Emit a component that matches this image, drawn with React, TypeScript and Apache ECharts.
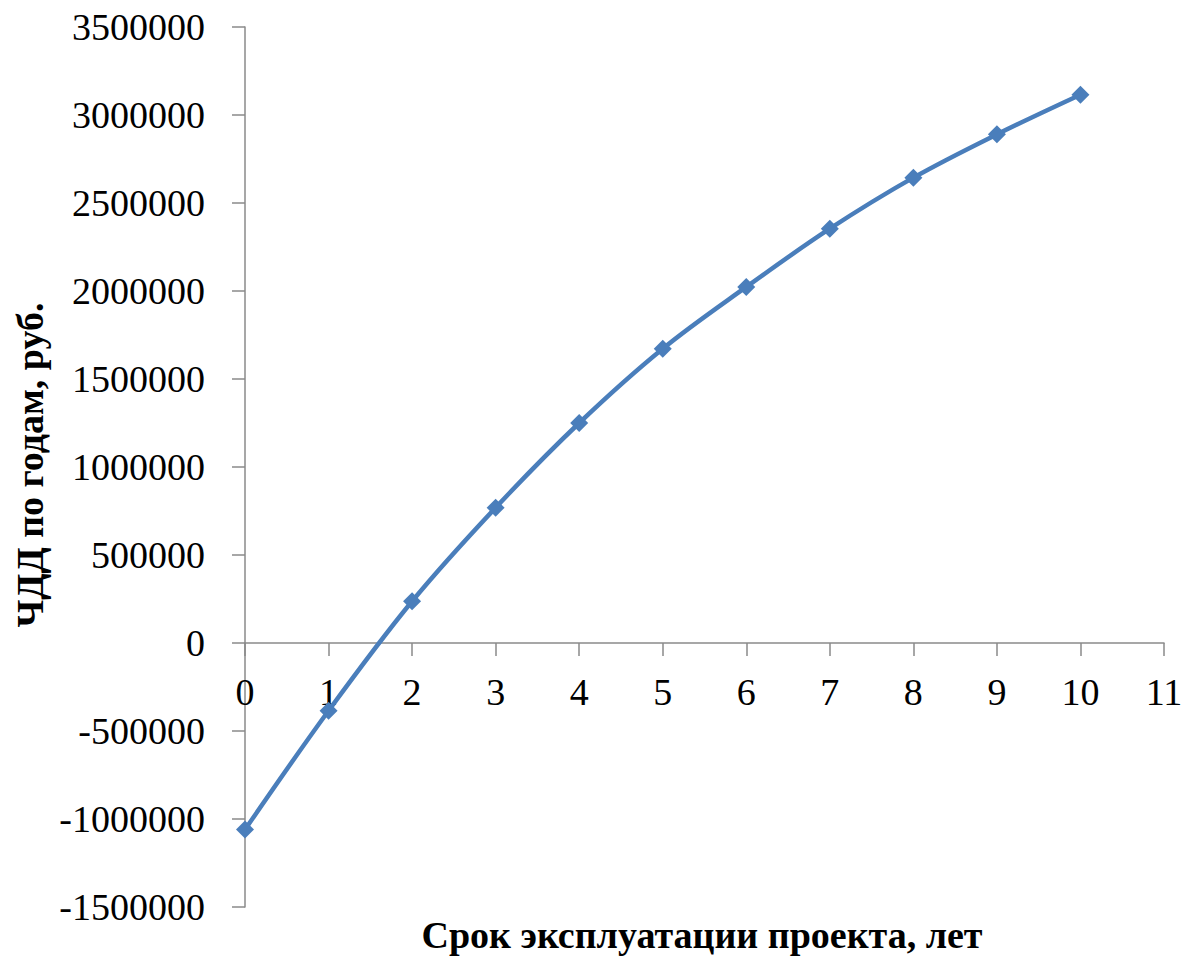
import React, { useEffect, useRef } from "react";
import * as echarts from "echarts";

const years = [0, 1, 2, 3, 4, 5, 6, 7, 8, 9, 10];
const npvValues = [-1060000, -385000, 237000, 769000, 1250000, 1672000, 2023000, 2354000, 2644000, 2890000, 3115000];
const xAxisTitle = "Срок эксплуатации проекта, лет";
const yAxisTitle = "ЧДД по годам, руб.";

export default function App() {
  const ref = useRef<HTMLDivElement>(null);
  useEffect(() => {
    if (!ref.current) return;
    const chart = echarts.init(ref.current, undefined, { renderer: "svg" });
    const font = "'Liberation Serif', 'Times New Roman', serif";
    const gridTop = 27;
    const gridBottom = 50;
    const plotH = 957 - gridTop - gridBottom;
    const yMin = -1500000;
    const yMax = 3500000;
    const zeroOffset = -(plotH * (0 - yMin)) / (yMax - yMin);
    chart.setOption({
      animation: false,
      backgroundColor: "#ffffff",
      grid: { left: 245, top: gridTop, right: 24, bottom: gridBottom, containLabel: false, outerBoundsMode: "none" },
      xAxis: {
        type: "value",
        min: 0,
        max: 11,
        interval: 1,
        position: "bottom",
        offset: zeroOffset,
        axisLine: { onZero: false, lineStyle: { color: "#8a8a8a", width: 1.5 } },
        axisTick: { show: true, length: 13, inside: false, lineStyle: { color: "#8a8a8a", width: 1.5 } },
        axisLabel: { color: "#000", fontFamily: font, fontSize: 38, margin: 30 },
        splitLine: { show: false },
      },
      yAxis: {
        type: "value",
        min: yMin,
        max: yMax,
        interval: 500000,
        axisLine: { show: true, onZero: false, lineStyle: { color: "#8a8a8a", width: 1.5 } },
        axisTick: { show: true, length: 13, lineStyle: { color: "#8a8a8a", width: 1.5 } },
        axisLabel: {
          color: "#000",
          fontFamily: font,
          fontSize: 38,
          margin: 40,
          formatter: (v: number) => String(v),
        },
        splitLine: { show: false },
      },
      graphic: [
        {
          type: "text",
          x: 702,
          y: 935,
          style: {
            text: xAxisTitle,
            fontFamily: font,
            fontWeight: "bold",
            fontSize: 38,
            fill: "#000",
            textAlign: "center",
            textVerticalAlign: "middle",
          },
        },
        {
          type: "text",
          rotation: Math.PI / 2,
          x: 30,
          y: 465,
          style: {
            text: yAxisTitle,
            fontFamily: font,
            fontWeight: "bold",
            fontSize: 38,
            fill: "#000",
            textAlign: "center",
            textVerticalAlign: "middle",
          },
        },
      ],
      series: [
        {
          type: "line",
          data: years.map((y, i) => [y, npvValues[i]]),
          smooth: 0.35,
          symbol: "diamond",
          symbolSize: 18,
          lineStyle: { color: "#4A7EBB", width: 4.5 },
          itemStyle: { color: "#4A7EBB" },
        },
      ],
    });
    return () => chart.dispose();
  }, []);
  return (
    <div
      ref={ref}
      style={{ position: "absolute", left: 0, top: 0, width: 1188, height: 957 }}
    />
  );
}
